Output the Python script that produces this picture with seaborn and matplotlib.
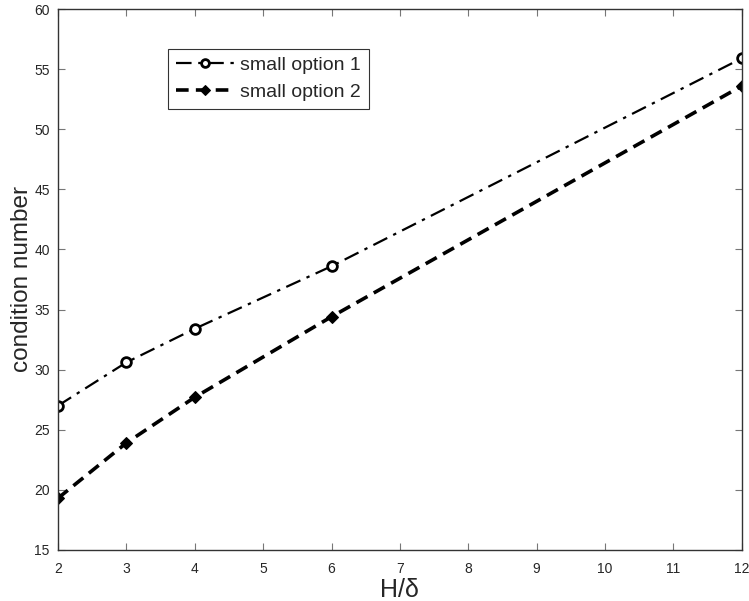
import pandas as pd
import matplotlib
matplotlib.use('Agg')
import matplotlib.pyplot as plt
import seaborn as sns

# Dados
h_delta = [2, 3, 4, 6, 12]
opcao1 = [27.0, 30.6, 33.4, 38.6, 55.9]
opcao2 = [19.3, 23.9, 27.7, 34.4, 53.6]

sns.set_style('ticks')
plt.rcParams['font.family'] = ['Liberation Sans', 'DejaVu Sans']
plt.rcParams['xtick.direction'] = 'in'
plt.rcParams['ytick.direction'] = 'in'

df1 = pd.DataFrame({'x': h_delta, 'y': opcao1})
df2 = pd.DataFrame({'x': h_delta, 'y': opcao2})

fig = plt.figure(figsize=(7.49, 6.01), dpi=100)
ax = fig.add_axes([0.0774, 0.085, 0.913, 0.9])

sns.lineplot(data=df1, x='x', y='y', ax=ax, color='black', linewidth=1.6,
             marker='o', markersize=7, markerfacecolor='white', markeredgecolor='black',
             markeredgewidth=2)
sns.lineplot(data=df2, x='x', y='y', ax=ax, color='black', linewidth=2.6,
             marker='D', markersize=6, markerfacecolor='black', markeredgecolor='black')
linhas = ax.get_lines()
linhas[0].set_dashes([7, 3, 1.5, 3])
linhas[1].set_dashes([3.5, 2])

ax.set_xlim(2, 12)
ax.set_ylim(15, 60)
ax.set_xticks(range(2, 13))
ax.set_yticks(range(15, 61, 5))
ax.tick_params(top=True, right=True, labelsize=10, length=5, color='#777777', pad=6)
ax.tick_params(axis='x', pad=9)
for s in ax.spines.values():
    s.set_color('#333333')
    s.set_linewidth(1)

ax.set_xlabel('H/δ', fontsize=18, labelpad=1)
ax.set_ylabel('condition number', fontsize=17.5, labelpad=1)

leg = ax.legend(linhas, ['small option 1', 'small option 2'], loc='upper left',
                bbox_to_anchor=(0.161, 0.927), borderaxespad=0, fontsize=14,
                frameon=True, fancybox=False, edgecolor='black', handlelength=3.0,
                handletextpad=0.3, borderpad=0.4, labelspacing=0.5, markerscale=0.8)
leg.get_frame().set_linewidth(0.8)

fig.savefig('out.png', dpi=100)
